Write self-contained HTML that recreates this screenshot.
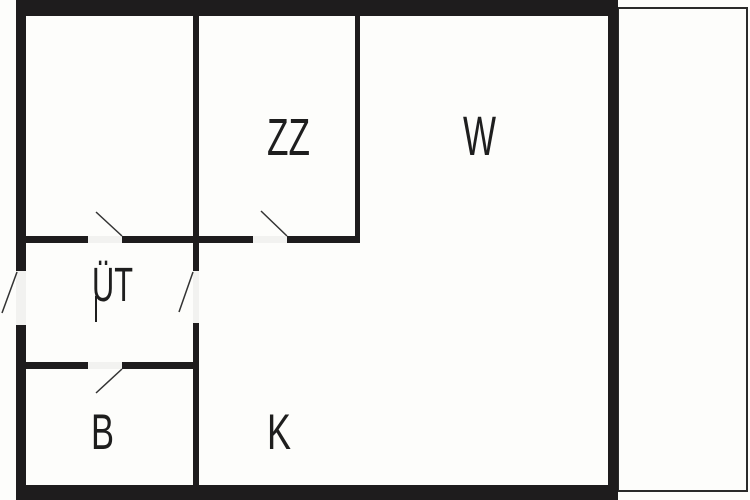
<!DOCTYPE html>
<html><head><style>
html,body{margin:0;padding:0;background:#fff;width:750px;height:500px;overflow:hidden}
text{font-family:"Liberation Sans Narrow","Liberation Sans",sans-serif;fill:#1e1e1e}
</style></head><body>
<svg width="750" height="500" viewBox="0 0 750 500" xmlns="http://www.w3.org/2000/svg">
<rect x="0" y="0" width="750" height="500" fill="#fdfdfb"/>
<rect x="618" y="8" width="129" height="483" fill="#fdfdfb" stroke="#2a2a2a" stroke-width="2"/>
<g fill="#1e1c1d">
<rect x="16" y="0" width="602" height="16"/>
<rect x="16" y="485" width="602" height="15"/>
<rect x="16" y="0" width="10" height="271"/>
<rect x="16" y="325" width="10" height="175"/>
<rect x="608" y="0" width="10" height="500"/>
<rect x="193" y="16" width="6" height="255"/>
<rect x="193" y="323" width="6" height="165"/>
<rect x="355" y="16" width="5" height="227"/>
<rect x="26" y="236" width="62" height="7"/>
<rect x="122" y="236" width="131" height="7"/>
<rect x="287" y="236" width="73" height="7"/>
<rect x="26" y="362" width="62" height="7"/>
<rect x="122" y="362" width="74" height="7"/>
</g>
<g fill="#f2f2f0">
<rect x="88" y="236" width="34" height="7"/>
<rect x="253" y="236" width="34" height="7"/>
<rect x="88" y="362" width="34" height="7"/>
<rect x="16" y="271" width="10" height="54"/>
<rect x="193" y="271" width="6" height="52"/>
</g>
<g stroke="#333" stroke-width="1.5">
<line x1="96" y1="212" x2="122" y2="236"/>
<line x1="261" y1="211" x2="287" y2="236"/>
<line x1="17" y1="272" x2="2" y2="313"/>
<line x1="193" y1="272" x2="179" y2="312"/>
<line x1="122" y1="369" x2="96" y2="393"/>
</g>
<text x="267" y="155" font-size="52" textLength="43" lengthAdjust="spacingAndGlyphs">ZZ</text>
<text x="463" y="155" font-size="56" textLength="33" lengthAdjust="spacingAndGlyphs">W</text>
<text x="267" y="449" font-size="50" textLength="24" lengthAdjust="spacingAndGlyphs">K</text>
<text x="91" y="449" font-size="50" textLength="23" lengthAdjust="spacingAndGlyphs">B</text>
<text x="92" y="301" font-size="48" textLength="41" lengthAdjust="spacingAndGlyphs">ÜT</text>
<line x1="96" y1="296" x2="96" y2="322" stroke="#1e1e1e" stroke-width="2"/>
</svg>
</body></html>
